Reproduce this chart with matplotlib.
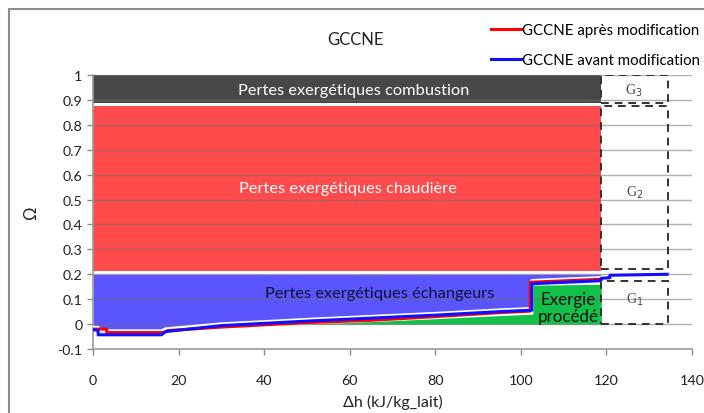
import matplotlib
matplotlib.use("Agg")
import matplotlib.pyplot as plt
from matplotlib.patches import Rectangle
from matplotlib.lines import Line2D

plt.rcParams['font.family'] = ['Lato', 'DejaVu Sans']

# Composite curves (Δh in kJ/kg_lait, Ω)
apres_x = [0, 3.2, 3.2, 16.5, 17.5, 30, 50, 65, 80, 95, 102.2, 102.2, 118.8]
apres_y = [-0.02, -0.02, -0.034, -0.034, -0.026, -0.012, 0.006, 0.015, 0.03, 0.046, 0.052, 0.168, 0.18]

avant_x = [0, 1.2, 1.2, 16, 17, 30, 50, 65, 80, 95, 102.6, 102.6, 118.6, 118.8, 120.8, 120.8, 134.2]
avant_y = [-0.022, -0.026, -0.043, -0.043, -0.03, -0.006, 0.012, 0.024, 0.036, 0.05, 0.056, 0.162, 0.174,
           0.184, 0.186, 0.196, 0.2]

# Process exergy profile
procede_x = [48, 60, 78, 95, 102.8, 102.8, 118.8]
procede_y = [0.0, 0.006, 0.02, 0.034, 0.04, 0.156, 0.16]

# Loss bands
combustion_band = (0.886, 1.0)
chaudiere_band = (0.213, 0.877)
echangeurs_top = 0.2
x_end = 118.8

# Dashed boxes G1, G2, G3
box_x = (118.8, 134.3)
g3_band = (0.886, 1.0)
g2_band = (0.222, 0.877)
g1_band = (0.0, 0.175)

x_ticks = [0, 20, 40, 60, 80, 100, 120, 140]
y_ticks = [-0.1, 0, 0.1, 0.2, 0.3, 0.4, 0.5, 0.6, 0.7, 0.8, 0.9, 1]
y_tick_labels = ['-0.1', '0', '0.1', '0.2', '0.3', '0.4', '0.5', '0.6', '0.7', '0.8', '0.9', '1']

fig = plt.figure(figsize=(7.04, 4.14), dpi=100)
ax = fig.add_axes([93 / 704, 1 - 350 / 414, 599 / 704, 274 / 414])

dark = '#484848'
red_fill = '#FF4B4B'
blue_fill = '#5B55FF'
green_fill = '#13C04A'

# Loss bands
ax.fill_between([0, x_end], combustion_band[0], combustion_band[1], color=dark, lw=0, zorder=1)
ax.fill_between([0, x_end], chaudiere_band[0], chaudiere_band[1], color=red_fill, lw=0, zorder=1)

# Exchanger losses: between the upper of the two curves and the band top
n = len(apres_x)
upper_x = avant_x[:n]
upper_y = [max(a, b) for a, b in zip(avant_y[:n], apres_y)]
ax.fill_between(upper_x, upper_y, echangeurs_top, color=blue_fill, lw=0, zorder=1)
ax.fill_between(procede_x, 0, procede_y, color=green_fill, lw=0, zorder=1)

# Grid drawn over the bands
for yv in y_ticks[1:]:
    ax.axhline(yv, color='#6f6f6f', lw=1.0, alpha=0.55, zorder=2)

# White halo then the two curves
ax.plot(upper_x, [v + 0.006 for v in upper_y], color='white', lw=2.5, zorder=3)
ax.plot(apres_x, apres_y, color='#FF0000', lw=2.2, zorder=4, label='GCCNE après modification')
ax.plot(avant_x, avant_y, color='#1010FF', lw=2.2, zorder=5, label='GCCNE avant modification')

# Dashed boxes
dash = dict(color='#333333', lw=1.4, linestyle=(0, (4, 3)), zorder=6)
for lo, hi in (g3_band, g2_band, g1_band):
    ax.add_patch(Rectangle((box_x[0], lo), box_x[1] - box_x[0], hi - lo, fill=False, **dash))

# Labels inside the bands
ax.text(61, 0.938, 'Pertes exergétiques combustion', color='white', ha='center', va='center', fontsize=11.8, zorder=7)
ax.text(59.5, 0.545, 'Pertes exergétiques chaudière', color='white', ha='center', va='center', fontsize=11.8, zorder=7)
ax.text(67, 0.125, 'Pertes exergétiques échangeurs', color='#111133', ha='center', va='center', fontsize=11.8, zorder=7)
ax.text(111, 0.066, 'Exergie\nprocédé', color='#111111', ha='center', va='center', fontsize=12.2,
        linespacing=1.1, zorder=7)
serif = dict(family='Liberation Serif', color='#444444', ha='center', va='center', fontsize=10, zorder=7)
ax.text(126.5, 0.94, 'G$_3$', **serif)
ax.text(126.5, 0.53, 'G$_2$', **serif)
ax.text(126.5, 0.1, 'G$_1$', **serif)

ax.set_xlim(0, 140)
ax.set_ylim(-0.1, 1.0)
ax.set_xticks(x_ticks)
ax.set_yticks(y_ticks)
ax.set_yticklabels(y_tick_labels)
ax.tick_params(axis='both', colors='#8a8a8a', labelcolor='#222222', labelsize=10.3, length=4, width=1)
ax.tick_params(axis='x', pad=14)
for s in ('top', 'right'):
    ax.spines[s].set_visible(False)
for s in ('left', 'bottom'):
    ax.spines[s].set_color('#9a9a9a')
    ax.spines[s].set_linewidth(1.2)

ax.set_xlabel('Δh (kJ/kg_lait)', fontsize=11.5, color='#222222', labelpad=6)
ax.set_ylabel('Ω', fontsize=12, color='#222222', labelpad=13)

fig.text(355 / 704, 1 - 40 / 414, 'GCCNE', ha='center', va='center', fontsize=12, color='#222222')

handles = [Line2D([], [], color='#FF0000', lw=2.2), Line2D([], [], color='#1010FF', lw=2.2)]
fig.legend(handles, ['GCCNE après modification', 'GCCNE avant modification'],
           loc='upper left', bbox_to_anchor=(483 / 704, 1 - 17 / 414), frameon=False,
           fontsize=10.8, handlelength=2.0, handletextpad=0.1, labelspacing=1.05, borderpad=0)

# Chart frame
fig.patches.append(Rectangle((9 / 704, -0.2), 1.2, 1.2 - 10 / 414, transform=fig.transFigure,
                             fill=False, edgecolor='#8c8c8c', lw=1.5))

fig.savefig('out.png', dpi=100)
